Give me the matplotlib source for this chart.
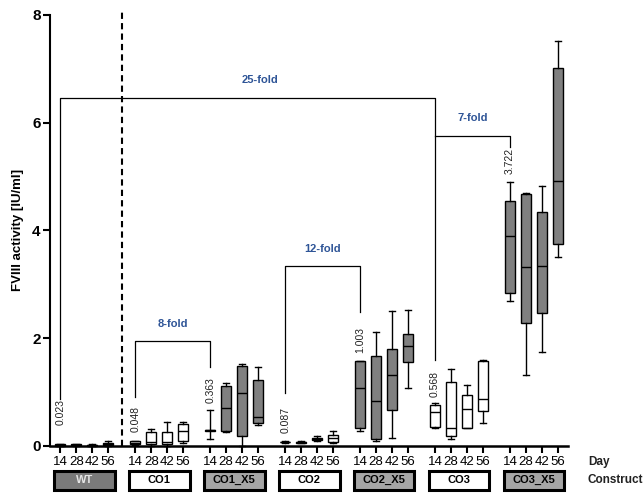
import numpy as np
import matplotlib
matplotlib.use("Agg")
import matplotlib.pyplot as plt
from matplotlib.patches import Rectangle
from matplotlib.transforms import blended_transform_factory

plt.rcParams['font.family'] = ['Liberation Sans', 'DejaVu Sans']

constructs = ["WT", "CO1", "CO1_X5", "CO2", "CO2_X5", "CO3", "CO3_X5"]
days = ["14", "28", "42", "56"]

# box statistics, 4 days per construct (IU/ml)
whislo = [0.00, 0.00, 0.00, 0.00,
          0.02, 0.00, 0.00, 0.05,
          0.13, 0.25, 0.00, 0.39,
          0.06, 0.05, 0.09, 0.06,
          0.28, 0.10, 0.14, 1.07,
          0.34, 0.13, 0.33, 0.42,
          2.69, 1.32, 1.75, 3.51]
q1 = [0.005, 0.01, 0.005, 0.01,
      0.03, 0.03, 0.03, 0.10,
      0.28, 0.27, 0.19, 0.42,
      0.07, 0.06, 0.11, 0.08,
      0.34, 0.12, 0.67, 1.56,
      0.35, 0.19, 0.33, 0.64,
      2.83, 2.29, 2.47, 3.75]
med = [0.02, 0.02, 0.015, 0.03,
       0.05, 0.08, 0.08, 0.27,
       0.29, 0.71, 0.98, 0.53,
       0.075, 0.07, 0.13, 0.14,
       1.07, 0.84, 1.32, 1.85,
       0.62, 0.34, 0.68, 0.87,
       3.89, 3.32, 3.34, 4.92]
q3 = [0.03, 0.03, 0.025, 0.05,
      0.09, 0.26, 0.25, 0.40,
      0.30, 1.12, 1.49, 1.23,
      0.08, 0.08, 0.15, 0.20,
      1.58, 1.66, 1.80, 2.07,
      0.75, 1.18, 0.95, 1.57,
      4.55, 4.67, 4.35, 7.01]
whishi = [0.04, 0.04, 0.035, 0.09,
          0.10, 0.32, 0.45, 0.45,
          0.67, 1.17, 1.52, 1.46,
          0.09, 0.09, 0.19, 0.28,
          1.58, 2.11, 2.51, 2.53,
          0.79, 1.43, 1.13, 1.60,
          4.89, 4.69, 4.82, 7.52]

# day-14 mean labels
mean_labels = ["0.023", "0.048", "0.363", "0.087", "1.003", "0.568", "3.722"]
mean_label_y = [0.39, 0.26, 0.80, 0.24, 1.73, 0.91, 5.04]

# fold-change brackets: (left construct, right construct)
fold_text = ["25-fold", "8-fold", "12-fold", "7-fold"]
fold_left = [0, 1, 3, 5]
fold_right = [5, 2, 4, 6]
fold_top = [6.46, 1.94, 3.33, 5.75]
fold_left_bottom = [0.87, 0.91, 0.99, 5.75]
fold_right_bottom = [1.60, 1.47, 2.49, 5.54]
fold_text_dx = [0.75, 0, 0, 0]

gray_groups = ["WT", "CO1_X5", "CO2_X5", "CO3_X5"]
group_gap = 4.6875

positions = []
for g in range(len(constructs)):
    for d in range(len(days)):
        positions.append(g * group_gap + d)

fig = plt.figure(figsize=(6.44, 4.96), dpi=100)
ax = fig.add_axes([0.078, 0.101, 0.804, 0.869])

stats = []
for i in range(len(positions)):
    stats.append(dict(whislo=whislo[i], q1=q1[i], med=med[i], q3=q3[i],
                      whishi=whishi[i], fliers=[]))

bp = ax.bxp(stats, positions=positions, widths=0.65, patch_artist=True,
            capwidths=0.4, manage_ticks=False,
            boxprops=dict(edgecolor='black', linewidth=1.0),
            medianprops=dict(color='black', linewidth=1.0),
            whiskerprops=dict(color='black', linewidth=1.0),
            capprops=dict(color='black', linewidth=1.0))
for i, box in enumerate(bp['boxes']):
    g = constructs[i // 4]
    box.set_facecolor('#808080' if g in gray_groups else 'white')
for art in bp['boxes'] + bp['medians'] + bp['whiskers'] + bp['caps']:
    art.set_clip_on(False)

# separator between WT and the constructs
sep_x = (positions[3] + positions[4]) / 2
ax.plot([sep_x, sep_x], [0, 8.05], color='black', linestyle='--',
        linewidth=1.5, clip_on=False, dashes=(3, 2))

# day-14 value labels
for g in range(len(constructs)):
    ax.text(positions[g * 4], mean_label_y[g], mean_labels[g], rotation=90,
            ha='center', va='bottom', fontsize=7.5, color='#222222')

# fold brackets
for k in range(len(fold_text)):
    xl = positions[fold_left[k] * 4]
    xr = positions[fold_right[k] * 4]
    ax.plot([xl, xl, xr, xr],
            [fold_left_bottom[k], fold_top[k], fold_top[k], fold_right_bottom[k]],
            color='black', linewidth=0.9)
    ax.text((xl + xr) / 2 + fold_text_dx[k], fold_top[k] + 0.33, fold_text[k],
            ha='center', va='center', fontsize=8, fontweight='bold',
            color='#2F5597')

ax.set_xlim(-0.625, 31.75)
ax.set_ylim(0, 8)
ax.set_yticks([0, 2, 4, 6, 8])
ax.set_xticks(positions, labels=days * len(constructs))
ax.tick_params(axis='x', labelsize=9.5, length=5, width=1.5, pad=2)
ax.tick_params(axis='y', labelsize=11, length=5, width=1.5, pad=2)
for lab in ax.get_yticklabels():
    lab.set_fontweight('bold')
for s in ['top', 'right']:
    ax.spines[s].set_visible(False)
ax.spines['left'].set_linewidth(1.5)
ax.spines['bottom'].set_linewidth(1.8)
ax.set_ylabel('FVIII activity [IU/ml]', fontsize=9.5, fontweight='bold',
              labelpad=6)

# construct name boxes under the day labels
trans = blended_transform_factory(ax.transData, ax.transAxes)
for g, name in enumerate(constructs):
    xc = positions[g * 4] + 1.5
    fc = 'white'
    tc = 'black'
    if name == "WT":
        fc = '#7a7a7a'
        tc = '#e6e6e6'
    elif name in gray_groups:
        fc = '#a6a6a6'
    ax.add_patch(Rectangle((xc - 1.9, -0.102), 3.8, 0.044, transform=trans,
                           facecolor=fc, edgecolor='black', linewidth=2.2,
                           clip_on=False))
    ax.text(xc, -0.080, name, transform=trans, ha='center', va='center',
            fontsize=8, fontweight='bold', color=tc)

fig.text(588 / 644, 1 - 462 / 496, 'Day', ha='left', va='center',
         fontsize=8.5, fontweight='bold', color='#222222')
fig.text(588 / 644, 1 - 480 / 496, 'Construct', ha='left', va='center',
         fontsize=8.5, fontweight='bold', color='#222222')

fig.savefig('out.png', dpi=100)
